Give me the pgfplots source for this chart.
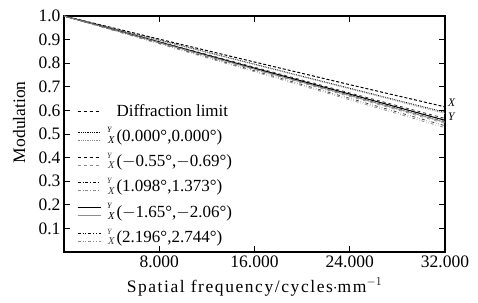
\documentclass[border=0pt]{standalone}
\usepackage{pgfplots}
\pgfplotsset{compat=1.18}
\usepackage{fontspec}
\setmainfont{Liberation Serif}
\definecolor{xg}{gray}{0.55}
\newcommand{\pairimg}[1]{%
  \draw[black,#1] (0pt,4pt) -- (23pt,4pt);
  \draw[xg,#1] (0pt,-4pt) -- (23pt,-4pt);
  \node[font=\fontsize{8}{9}\selectfont\itshape,inner sep=0pt] at (29pt,5pt) {Y};
  \node[font=\fontsize{10.5}{11}\selectfont\itshape,inner sep=0pt] at (30pt,-5pt) {X};
}
\begin{document}
\begin{tikzpicture}
\begin{axis}[
  scale only axis, width=381pt, height=236pt,
  xmin=0, xmax=32, ymin=0, ymax=1,
  xtick={8,16,24,32}, ytick={0.1,0.2,...,1.0},
  tick align=inside, major tick length=6pt,
  axis line style={line width=1.2pt}, every tick/.style={line width=0.9pt,black},
  /pgf/number format/assume math mode=true,
  xticklabel style={/pgf/number format/.cd,fixed,fixed zerofill,precision=3},
  yticklabel style={/pgf/number format/.cd,fixed,fixed zerofill,precision=1},
  tick label style={font=\fontsize{17.5}{19}\selectfont},
  label style={font=\fontsize{17.5}{19}\selectfont},
  xlabel={\addfontfeature{LetterSpace=9}Spatial frequency/cycles$\cdot$mm$^{-1}$},
  ylabel={Modulation},
  xlabel style={at={(axis description cs:0.5,-0.148)}, anchor=center},
  ylabel style={at={(axis description cs:-0.118,0.55)}, anchor=center},
  legend style={draw=none, fill=none, at={(0.034,0.635)}, anchor=north west,
    font=\fontsize{17}{19}\selectfont, row sep=7.5pt, inner sep=0pt},
  legend cell align=left,
]
\addplot[black, densely dashed, line width=1pt, legend image code/.code={\draw[black,dashed,line width=1pt] (0pt,0pt) -- (23pt,0pt); \path (31pt,0pt);}] coordinates {(0,1) (8,0.902) (16,0.805) (24,0.709) (32,0.615)};
\addlegendentry{Diffraction limit}
% (0,0)
\addplot[black, densely dotted, line width=0.8pt, legend image code/.code={\pairimg{densely dotted,line width=0.8pt}}] coordinates {(0,1) (8,0.898) (16,0.796) (24,0.694) (32,0.592)};
\addlegendentry{(0.000°,0.000°)}
\addplot[xg, densely dotted, line width=0.8pt, forget plot] coordinates {(0,1) (8,0.897) (16,0.794) (24,0.691) (32,0.587)};
% (-0.55,-0.69)
\addplot[black!80, dashed, line width=0.8pt, legend image code/.code={\pairimg{dashed,line width=0.8pt}}] coordinates {(0,1) (8,0.891) (16,0.783) (24,0.674) (32,0.566)};
\addlegendentry{($-$0.55°,$-$0.69°)}
\addplot[xg, dashed, line width=0.8pt, forget plot] coordinates {(0,1) (8,0.890) (16,0.780) (24,0.670) (32,0.560)};
% (1.098,1.373)
\addplot[black!80, dashdotted, line width=0.8pt, legend image code/.code={\pairimg{dashdotted,line width=0.8pt}}] coordinates {(0,1) (8,0.888) (16,0.776) (24,0.664) (32,0.552)};
\addlegendentry{(1.098°,1.373°)}
\addplot[xg, dashdotted, line width=0.8pt, forget plot] coordinates {(0,1) (8,0.886) (16,0.773) (24,0.659) (32,0.545)};
% (-1.65,-2.06)
\addplot[black, solid, line width=1pt, legend image code/.code={\pairimg{solid,line width=1pt}}] coordinates {(0,1) (8,0.890) (16,0.779) (24,0.669) (32,0.558)};
\addlegendentry{($-$1.65°,$-$2.06°)}
\addplot[xg, solid, line width=0.8pt, forget plot] coordinates {(0,1) (8,0.888) (16,0.775) (24,0.663) (32,0.550)};
% (2.196,2.744)
\addplot[black!75, dash dot dot, line width=0.8pt, legend image code/.code={\pairimg{dash dot dot,line width=0.8pt}}] coordinates {(0,1) (8,0.884) (16,0.768) (24,0.651) (32,0.535)};
\addlegendentry{(2.196°,2.744°)}
\addplot[xg, dash dot dot, line width=0.8pt, forget plot] coordinates {(0,1) (8,0.882) (16,0.764) (24,0.645) (32,0.527)};
\end{axis}
\node[font=\fontsize{11.5}{12}\selectfont\itshape, anchor=west, inner sep=0pt] at (384pt,149pt) {X};
\node[font=\fontsize{11.5}{12}\selectfont\itshape, anchor=west, inner sep=0pt] at (384pt,135pt) {Y};
\pgfresetboundingbox
\path (-64pt,-50pt) rectangle (414pt,252pt);
\end{tikzpicture}
\end{document}
